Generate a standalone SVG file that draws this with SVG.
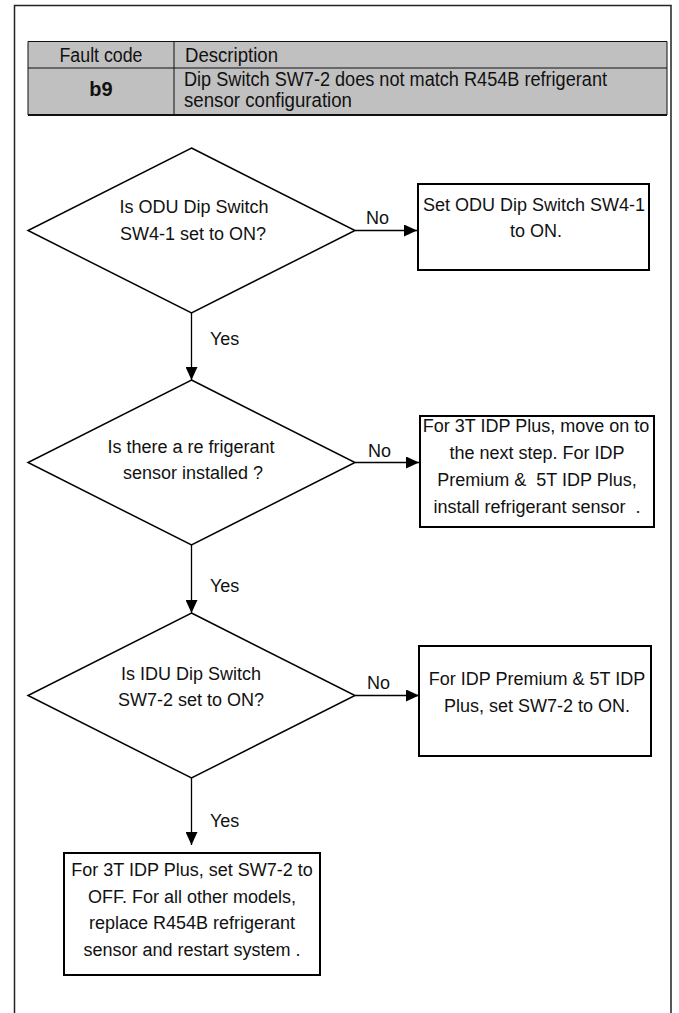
<svg xmlns="http://www.w3.org/2000/svg" width="679" height="1013" viewBox="0 0 679 1013">
<style>
.frame{fill:none;stroke:#222;stroke-width:1.5}
.cell{fill:#c0c0c0;stroke:none}
.tl{stroke:#111;stroke-width:1;fill:none}
.tb{stroke:#111;stroke-width:2;fill:none}
.tt{font-family:"Liberation Sans",Arial,sans-serif;font-size:20px;fill:#111}
.dia{fill:#fff;stroke:#000;stroke-width:1.5}
.box{fill:#fff;stroke:#000;stroke-width:2}
.t{font-family:"Liberation Sans",Arial,sans-serif;font-size:18px;fill:#111;text-anchor:middle}
.lbl{font-family:"Liberation Sans",Arial,sans-serif;font-size:18px;fill:#111}
.con{stroke:#000;stroke-width:1.3;fill:none;marker-end:url(#ah)}
</style>
<defs>
<marker id="ah" markerUnits="userSpaceOnUse" markerWidth="13" markerHeight="12" refX="13" refY="6" orient="auto">
<path d="M0,0 L13,6 L0,12 z" fill="#000"/>
</marker>
</defs>
<rect width="679" height="1013" fill="#fff"/>
<path class="frame" d="M14.5,1013 V5.5 H671 V1013"/>

<g id="fault-table">
<rect class="cell" x="28" y="41.5" width="639" height="73.5"/>
<path class="tl" d="M28,41.5 H667 M28,68 H667 M174,41.5 V115 M28,41.5 V115 M667,41.5 V115"/>
<path class="tb" d="M28,115 H667"/>
<text class="tt" x="101" y="62" text-anchor="middle" textLength="83" lengthAdjust="spacingAndGlyphs">Fault code</text>
<text class="tt" x="185" y="62" textLength="93" lengthAdjust="spacingAndGlyphs">Description</text>
<text class="tt" x="101" y="96" text-anchor="middle" font-weight="bold">b9</text>
<text class="tt" x="184" y="86" textLength="423" lengthAdjust="spacingAndGlyphs">Dip Switch SW7-2 does not match R454B refrigerant</text>
<text class="tt" x="184" y="107" textLength="168" lengthAdjust="spacingAndGlyphs">sensor configuration</text>
</g>

<g id="connectors">
<path class="con" d="M355,230.5 H417"/>
<path class="con" d="M191.5,313 V380"/>
<path class="con" d="M355,462.5 H419"/>
<path class="con" d="M191.5,545 V613"/>
<path class="con" d="M355,695.5 H419"/>
<path class="con" d="M191.5,778 V845"/>
<text class="lbl" x="366" y="224">No</text>
<text class="lbl" x="210" y="345">Yes</text>
<text class="lbl" x="368" y="457">No</text>
<text class="lbl" x="210" y="592">Yes</text>
<text class="lbl" x="367" y="689">No</text>
<text class="lbl" x="210" y="827">Yes</text>
</g>

<g id="q1">
<polygon class="dia" points="191.5,148 355,230.5 191.5,313 28,230.5"/>
<text class="t" x="194" y="213">Is ODU Dip Switch</text>
<text class="t" x="193" y="240">SW4-1 set to ON?</text>
</g>

<g id="a1">
<rect class="box" x="418" y="184" width="231" height="86"/>
<text class="t" x="534" y="211">Set ODU Dip Switch SW4-1</text>
<text class="t" x="536" y="237">to ON.</text>
</g>

<g id="q2">
<polygon class="dia" points="191.5,380 355,462.5 191.5,545 28,462.5"/>
<text class="t" x="191" y="453">Is there a re frigerant</text>
<text class="t" x="193" y="479">sensor installed ?</text>
</g>

<g id="a2">
<rect class="box" x="420" y="416" width="234" height="111"/>
<text class="t" x="536" y="432">For 3T IDP Plus, move on to</text>
<text class="t" x="537" y="459">the next step.  For IDP</text>
<text class="t" x="537" y="486" xml:space="preserve">Premium &amp;  5T IDP Plus,</text>
<text class="t" x="537" y="513" xml:space="preserve">install refrigerant sensor  .</text>
</g>

<g id="q3">
<polygon class="dia" points="191.5,613 355,695.5 191.5,778 28,695.5"/>
<text class="t" x="191" y="680">Is IDU Dip Switch</text>
<text class="t" x="191" y="706">SW7-2 set to ON?</text>
</g>

<g id="a3">
<rect class="box" x="419" y="646" width="232" height="110"/>
<text class="t" x="537" y="685">For IDP Premium &amp; 5T IDP</text>
<text class="t" x="537" y="712">Plus, set SW7-2 to ON.</text>
</g>

<g id="a4">
<rect class="box" x="64" y="853" width="256" height="122"/>
<text class="t" x="192" y="876">For 3T IDP Plus, set SW7-2 to</text>
<text class="t" x="192" y="903">OFF. For all other models,</text>
<text class="t" x="192" y="929">replace R454B refrigerant</text>
<text class="t" x="192" y="956">sensor and restart system .</text>
</g>
</svg>
